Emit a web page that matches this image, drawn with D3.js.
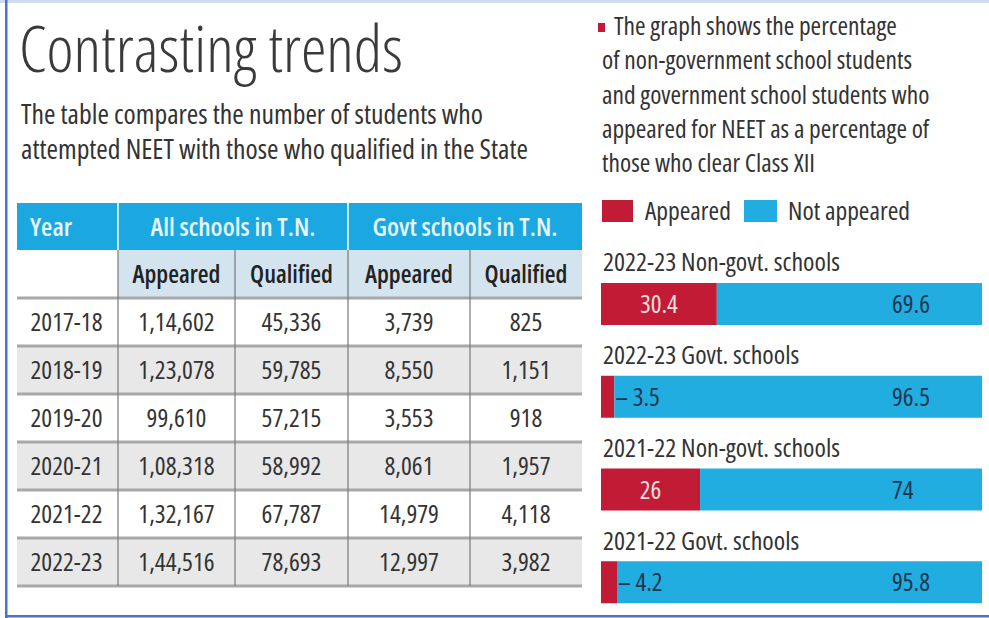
<!DOCTYPE html>
<html><head><meta charset="utf-8">
<script src="https://cdn.jsdelivr.net/npm/d3@7"></script>
<style>
html,body{margin:0;padding:0;background:#fff;}
svg{display:block;}
</style></head>
<body>
<svg id="chart" width="989" height="618"></svg>
<script>
// ---------------- data ----------------
const title = "Contrasting trends";
const subtitleLines = ["The table compares the number of students who",
                       "attempted NEET with those who qualified in the State"];
const noteLines = ["The graph shows the percentage",
                   "of non-government school students",
                   "and government school students who",
                   "appeared for NEET as a percentage of",
                   "those who clear Class XII"];
const groupHeaders = ["Year", "All schools in T.N.", "Govt schools in T.N."];
const subHeaders = ["Appeared", "Qualified", "Appeared", "Qualified"];
const years = ["2017-18", "2018-19", "2019-20", "2020-21", "2021-22", "2022-23"];
const allAppeared   = [114602, 123078, 99610, 108318, 132167, 144516];
const allQualified  = [45336, 59785, 57215, 58992, 67787, 78693];
const govtAppeared  = [3739, 8550, 3553, 8061, 14979, 12997];
const govtQualified = [825, 1151, 918, 1957, 4118, 3982];

const barGroups = ["2022-23 Non-govt. schools", "2022-23 Govt. schools",
                   "2021-22 Non-govt. schools", "2021-22 Govt. schools"];
const appeared    = [30.4, 3.5, 26, 4.2];
const notAppeared = [69.6, 96.5, 74, 95.8];
const legendLabels = ["Appeared", "Not appeared"];

// ---------------- setup ----------------
const svg = d3.select("#chart");
const FONT = '"Open Sans", "Noto Sans", sans-serif';

// font-size that makes `sample` span `target` px with the given style
function fit(sample, target, stretch, weight){
  const t = svg.append("text").attr("font-family", FONT).attr("font-size", 100)
    .attr("font-weight", weight || 400).style("font-stretch", stretch || "100%").text(sample);
  const w = t.node().getComputedTextLength();
  t.remove();
  return +(100 * target / w).toFixed(2);
}
function styled(sel, size, stretch, weight){
  return sel.attr("font-family", FONT).attr("font-size", size)
    .attr("font-weight", weight || 400).style("font-stretch", stretch || "100%");
}

function inr(n){
  const s = String(n);
  if (s.length <= 3) return s;
  const last3 = s.slice(-3);
  const rest = s.slice(0, -3).replace(/\B(?=(\d{2})+(?!\d))/g, ",");
  return rest + "," + last3;
}

const C = {
  text:"#333333", headBlue:"#1ba8e0", subBlue:"#d3e4ef", gray:"#e8e8e8",
  sep:"#a8a8a8", vline:"#7a7a7a", red:"#c21b35", blue:"#22ade1", navy:"#1d3550",
  frame:"#4a74c6"
};

const BODY = "75%";
const S = {
  title: fit(title, 384, "78%", 300),
  sub: fit(subtitleLines[0], 462, BODY),
  note: fit(noteLines[1], 310, BODY),
  legend: fit(legendLabels[1], 122, BODY),
  cat: fit(barGroups[0], 237, BODY),
  gh: fit(groupHeaders[2], 185, BODY, 600),
  sh: fit(subHeaders[0], 88, BODY, 600),
  cell: fit(years[4], 72, BODY),
  val: fit(String(notAppeared[0]), 38, BODY)
};

// ---------------- frame ----------------
svg.append("rect").attr("x",0).attr("y",0).attr("width",989).attr("height",3).attr("fill","#cfdcef");
svg.append("rect").attr("x",5).attr("y",0).attr("width",2.5).attr("height",618).attr("fill",C.frame);
svg.append("rect").attr("x",5).attr("y",615).attr("width",984).attr("height",2.5).attr("fill",C.frame);

// ---------------- title ----------------
styled(svg.append("text").attr("x",19).attr("y",72), S.title, "78%", 300)
  .attr("fill","#3a3a3a").text(title);
styled(svg.selectAll("text.sub").data(subtitleLines).join("text").attr("class","sub")
  .attr("x",21).attr("y",(d,i)=>124+i*34.5), S.sub, BODY)
  .attr("fill",C.text).text(d=>d);

// ---------------- table ----------------
const colX = [17,118,235,348,470,582];
const headTop=203, headMid=250, headBot=298, tableBot=586;
const rowScale = d3.scaleBand().domain(years).range([headBot, tableBot]);
const tbl = svg.append("g");
tbl.append("rect").attr("x",colX[0]).attr("y",headTop).attr("width",colX[5]-colX[0]).attr("height",headMid-headTop).attr("fill",C.headBlue);
tbl.append("rect").attr("x",colX[1]).attr("y",headMid).attr("width",colX[5]-colX[1]).attr("height",headBot-headMid).attr("fill",C.subBlue);
tbl.selectAll("rect.row").data(years).join("rect").attr("class","row")
  .attr("x",colX[0]).attr("y",d=>rowScale(d)).attr("width",colX[5]-colX[0])
  .attr("height",rowScale.bandwidth()).attr("fill",(d,i)=>i%2? C.gray : "#ffffff");
const sepYs = [headBot, ...years.map(d=>rowScale(d)+rowScale.bandwidth())];
tbl.selectAll("rect.sep").data(sepYs).join("rect").attr("class","sep")
  .attr("x",colX[0]).attr("y",d=>d-1.5).attr("width",colX[5]-colX[0]).attr("height",3).attr("fill",C.sep);
[1,3].forEach(k=>{
  tbl.append("line").attr("x1",colX[k]).attr("x2",colX[k]).attr("y1",headTop).attr("y2",headMid)
    .attr("stroke","#ffffff").attr("stroke-width",1.5);
});
[1,2,3,4].forEach(k=>{
  tbl.append("line").attr("x1",colX[k]).attr("x2",colX[k]).attr("y1",headMid).attr("y2",tableBot)
    .attr("stroke",C.vline).attr("stroke-width",1.2);
});
styled(tbl.selectAll("text.gh").data(groupHeaders).join("text").attr("class","gh")
  .attr("x",(d,i)=>i===0? 30 : (i===1 ? (colX[1]+colX[3])/2 : (colX[3]+colX[5])/2))
  .attr("y",(headTop+headMid)/2).attr("dy","0.36em")
  .attr("text-anchor",(d,i)=>i===0?"start":"middle"), S.gh, BODY, 600)
  .attr("fill","#e6f5fc").text(d=>d);
styled(tbl.selectAll("text.sh").data(subHeaders).join("text").attr("class","sh")
  .attr("x",(d,i)=>(colX[i+1]+colX[i+2])/2).attr("y",(headMid+headBot)/2).attr("dy","0.36em")
  .attr("text-anchor","middle"), S.sh, BODY, 600)
  .attr("fill","#222").text(d=>d);
const cols = [years, allAppeared.map(inr), allQualified.map(inr), govtAppeared.map(inr), govtQualified.map(inr)];
cols.forEach((arr,ci)=>{
  styled(tbl.selectAll("text.c"+ci).data(arr).join("text").attr("class","c"+ci)
    .attr("x",(colX[ci]+colX[ci+1])/2 - (ci===0?1:0))
    .attr("y",(d,i)=>rowScale(years[i])+rowScale.bandwidth()/2).attr("dy","0.36em")
    .attr("text-anchor","middle"), S.cell, BODY)
    .attr("fill","#333").text(d=>d);
});

// ---------------- right note ----------------
svg.append("rect").attr("x",598).attr("y",23).attr("width",7).attr("height",9).attr("fill",C.red);
styled(svg.selectAll("text.note").data(noteLines).join("text").attr("class","note")
  .attr("x",(d,i)=>i===0?614:602).attr("y",(d,i)=>35+i*34.3), S.note, BODY)
  .attr("fill",C.text).text(d=>d);

// legend
const lg = svg.append("g");
const legColors = [C.red, C.blue];
const legRectX = [602, 744], legRectW = [31, 33], legTextX = [645, 788];
legendLabels.forEach((l,i)=>{
  lg.append("rect").attr("x",legRectX[i]).attr("y",200).attr("width",legRectW[i]).attr("height",22).attr("fill",legColors[i]);
  styled(lg.append("text").attr("x",legTextX[i]).attr("y",211).attr("dy","0.36em"), S.legend, BODY)
    .attr("fill",C.text).text(l);
});

// ---------------- bars ----------------
const x = d3.scaleLinear().domain([0,100]).range([601,982]);
const band = d3.scaleBand().domain(barGroups).range([241,612]);
const labelH = 42, barH = 42;
const bg = svg.selectAll("g.bar").data(barGroups).join("g").attr("class","bar");
styled(bg.append("text").attr("x",603).attr("y",d=>band(d)+21).attr("dy","0.36em"), S.cat, BODY)
  .attr("fill",C.text).text(d=>d);
bg.append("rect").attr("x",x(0)).attr("y",d=>band(d)+labelH).attr("height",barH)
  .attr("width",(d,i)=>x(appeared[i])-x(0)).attr("fill",C.red);
bg.append("rect").attr("x",(d,i)=>x(appeared[i])).attr("y",d=>band(d)+labelH).attr("height",barH)
  .attr("width",(d,i)=>x(appeared[i]+notAppeared[i])-x(appeared[i])).attr("fill",C.blue);
styled(bg.append("text")
  .attr("x",(d,i)=>appeared[i]>=10 ? (x(0)+x(appeared[i]))/2 : x(appeared[i])+1)
  .attr("y",d=>band(d)+labelH+barH/2).attr("dy","0.36em")
  .attr("text-anchor",(d,i)=>appeared[i]>=10?"middle":"start"), S.val, BODY)
  .attr("fill",(d,i)=>appeared[i]>=10?"#f6dede":C.navy)
  .text((d,i)=>appeared[i]>=10? String(appeared[i]) : "\u2013 "+appeared[i]);
styled(bg.append("text").attr("x",x(100)-90)
  .attr("y",d=>band(d)+labelH+barH/2).attr("dy","0.36em"), S.val, BODY)
  .attr("fill",C.navy).text((d,i)=>String(notAppeared[i]));
</script>
</body></html>
